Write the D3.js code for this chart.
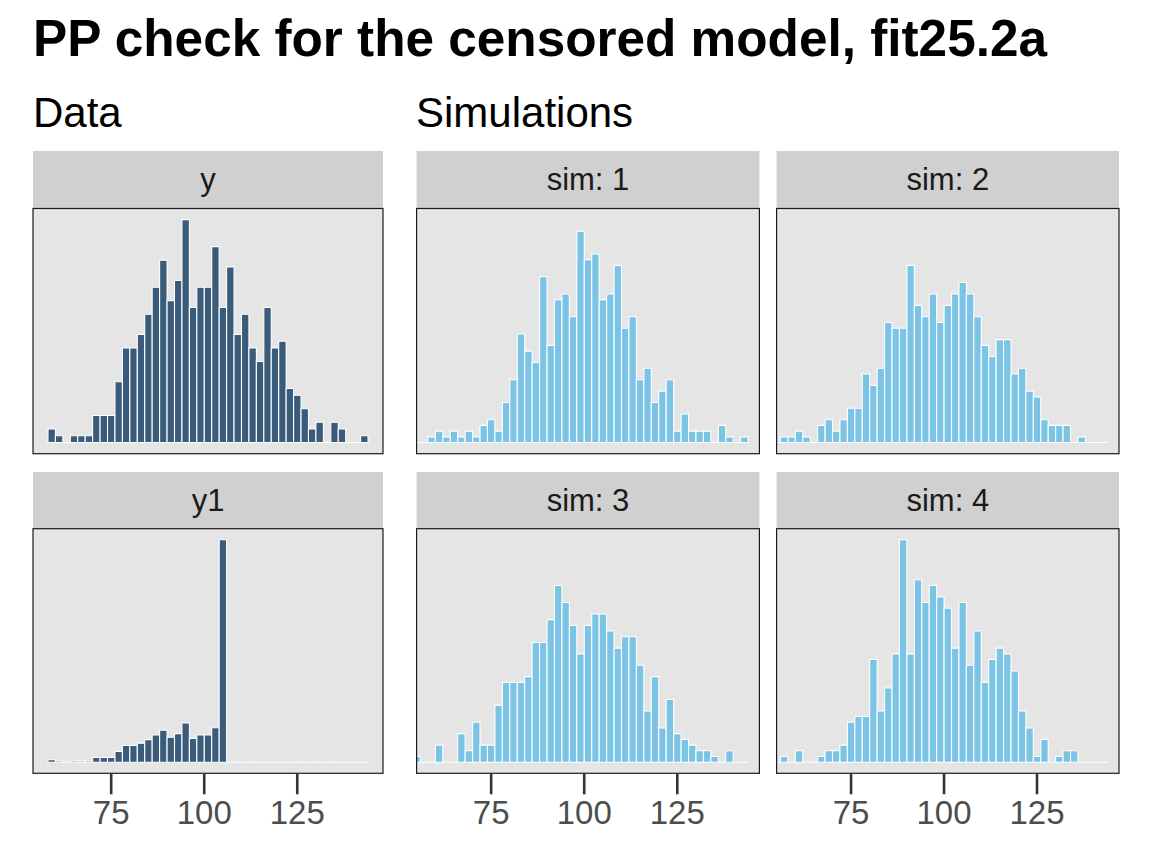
<!DOCTYPE html>
<html>
<head>
<meta charset="utf-8">
<script src="https://cdn.jsdelivr.net/npm/d3@7"></script>
<style>
  html, body { margin: 0; padding: 0; background: #ffffff; }
  svg { display: block; font-family: "Liberation Sans", Arial, Helvetica, sans-serif; }
</style>
</head>
<body>
<svg id="chart" width="1152" height="864"></svg>
<script>
// ---------------- data ----------------
const titleText = "PP check for the censored model, fit25.2a";
const dataLabel = "Data";
const simLabel = "Simulations";
const binWidth = 2;
const dataBinStart = 58.15;          // first bin edge of the data histograms
const simBinStart = 54.15;           // first bin edge of the simulation histograms
const dataXRange = [58.4, 143.9];    // observed range (before 5% expansion)
const simXRange = [59.3, 143.0];
const xTickValues = [75, 100, 125];

const dataLabels = ["y", "y1"];
const yCounts = [2,1,0,1,1,1,4,4,4,9,14,14,16,19,23,27,21,24,33,20,23,23,29,20,26,16,19,14,12,20,14,15,8,7,5,2,3,0,3,2,0,0,1];
const y1Counts = [2,1,0,1,1,1,4,4,4,9,14,14,16,19,23,27,21,24,33,20,23,23,29,187,0,0,0,0,0,0,0,0,0,0,0,0,0,0,0,0,0,0,0];

const simLabels = ["sim: 1", "sim: 2", "sim: 3", "sim: 4"];
const sim1Counts = [0,0,1,2,1,2,1,2,1,3,4,2,7,11,19,16,14,29,17,25,26,22,37,32,33,25,26,31,20,22,11,13,7,9,11,2,5,2,2,2,0,3,1,0,1];
const sim2Counts = [0,1,1,2,1,0,3,4,2,4,6,6,12,10,13,21,20,20,31,24,22,26,21,24,26,28,26,22,17,15,18,18,12,13,9,8,4,3,3,3,0,1,0,0,0];
const sim3Counts = [1,0,0,3,0,0,5,2,7,3,3,10,14,14,14,15,21,21,25,31,28,24,19,24,26,26,23,20,22,22,17,9,15,6,11,5,4,3,2,2,1,0,2,0,0];
const sim4Counts = [0,1,0,2,0,0,1,2,2,3,7,8,8,18,9,13,19,39,19,32,28,31,29,27,20,28,17,23,14,18,20,19,16,9,6,1,4,0,1,2,2,0,0,0,0];

// ---------------- style / layout ----------------
const darkFill = "#3b5b7b";
const lightFill = "#7cc4e6";
const panelBg = "#e5e5e5";
const stripBg = "#d0d0d0";

const rows = [
  { stripTop: 151, panelTop: 208.5, panelBottom: 453.7 },
  { stripTop: 472, panelTop: 528.7, panelBottom: 773.3 }
];
const colsLeft = [{ x0: 33, x1: 383 }];
const colsSim = [{ x0: 416.6, x1: 759.4 }, { x0: 776.6, x1: 1119 }];

const svg = d3.select("#chart");

function expand(r) {
  const d = r[1] - r[0];
  return [r[0] - 0.05 * d, r[1] + 0.05 * d];
}

const panels = [
  { label: dataLabels[0], counts: yCounts, start: dataBinStart, xr: dataXRange, row: 0, col: colsLeft[0], fill: darkFill, ymax: d3.max(yCounts), axis: false },
  { label: dataLabels[1], counts: y1Counts, start: dataBinStart, xr: dataXRange, row: 1, col: colsLeft[0], fill: darkFill, ymax: d3.max(y1Counts), axis: true }
];
const simAll = [sim1Counts, sim2Counts, sim3Counts, sim4Counts];
const simMax = d3.max(simAll, a => d3.max(a));
simAll.forEach((c, i) => {
  panels.push({ label: simLabels[i], counts: c, start: simBinStart, xr: simXRange,
    row: Math.floor(i / 2), col: colsSim[i % 2], fill: lightFill, ymax: simMax, axis: i >= 2 });
});

// title and subtitles
svg.append("text").attr("x", 33).attr("y", 56)
  .attr("font-size", 51.3).attr("font-weight", "bold").attr("fill", "#000")
  .text(titleText);
svg.append("text").attr("x", 33).attr("y", 127)
  .attr("font-size", 42).attr("fill", "#000").text(dataLabel);
svg.append("text").attr("x", 416).attr("y", 127)
  .attr("font-size", 42).attr("fill", "#000").text(simLabel);

const defs = svg.append("defs");

panels.forEach((p, pi) => {
  const r = rows[p.row];
  const x = d3.scaleLinear().domain(expand(p.xr)).range([p.col.x0, p.col.x1]);
  const y = d3.scaleLinear().domain(expand([0, p.ymax])).range([r.panelBottom, r.panelTop]);

  // strip
  svg.append("rect").attr("x", p.col.x0).attr("y", r.stripTop)
    .attr("width", p.col.x1 - p.col.x0).attr("height", r.panelTop - r.stripTop)
    .attr("fill", stripBg);
  svg.append("text").attr("x", (p.col.x0 + p.col.x1) / 2).attr("y", (r.stripTop + r.panelTop) / 2)
    .attr("text-anchor", "middle").attr("dominant-baseline", "central")
    .attr("font-size", 31).attr("fill", "#1a1a1a").text(p.label);

  // panel background
  svg.append("rect").attr("x", p.col.x0).attr("y", r.panelTop)
    .attr("width", p.col.x1 - p.col.x0).attr("height", r.panelBottom - r.panelTop)
    .attr("fill", panelBg);

  const cid = "clip" + pi;
  defs.append("clipPath").attr("id", cid).append("rect")
    .attr("x", p.col.x0).attr("y", r.panelTop)
    .attr("width", p.col.x1 - p.col.x0).attr("height", r.panelBottom - r.panelTop);

  const bins = p.counts.map((c, i) => ({ x0: p.start + i * binWidth, x1: p.start + (i + 1) * binWidth, n: c }));
  svg.append("g").attr("clip-path", `url(#${cid})`)
    .selectAll("path").data(bins).join("path")
    .attr("d", b => `M${x(b.x0)},${y(0)}H${x(b.x1)}V${y(b.n)}H${x(b.x0)}Z`)
    .attr("fill", p.fill).attr("stroke", "#ffffff").attr("stroke-width", 1.1)
    .attr("stroke-linejoin", "miter");

  // border
  svg.append("rect").attr("x", p.col.x0).attr("y", r.panelTop)
    .attr("width", p.col.x1 - p.col.x0).attr("height", r.panelBottom - r.panelTop)
    .attr("fill", "none").attr("stroke", "#1a1a1a").attr("stroke-width", 1.2);

  if (p.axis) {
    const ax = svg.append("g").attr("transform", `translate(0,${r.panelBottom})`)
      .call(d3.axisBottom(x).tickValues(xTickValues).tickSize(21).tickPadding(6).tickFormat(d3.format("d")));
    ax.select(".domain").remove();
    ax.selectAll(".tick line").attr("stroke", "#333333").attr("stroke-width", 2.6);
    ax.selectAll(".tick text").attr("fill", "#4d4d4d").attr("font-size", 33)
      .attr("font-family", "Liberation Sans, Arial, sans-serif");
  }
});
</script>
</body>
</html>
